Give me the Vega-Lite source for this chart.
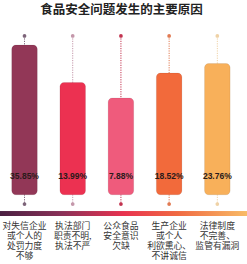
{
  "$schema": "https://vega.github.io/schema/vega-lite/v6.json",
  "width": 247,
  "height": 198,
  "padding": {"top": 3, "left": 0, "right": 0, "bottom": 0},
  "background": "white",
  "title": {"text": "食品安全问题发生的主要原因", "font": "Noto Sans CJK SC", "fontSize": 12.5, "fontWeight": "bold", "color": "#222222", "anchor": "middle", "offset": 4, "dx": -2},
  "config": {"view": {"stroke": null}},
  "data": {"values": [
    {"cause": "对失信企业\n或个人的\n处罚力度\n不够", "share": 0.3585},
    {"cause": "执法部门\n职责不明,\n执法不严", "share": 0.1399},
    {"cause": "公众食品\n安全意识\n欠缺", "share": 0.0788},
    {"cause": "生产企业\n或个人\n利欲熏心、\n不讲诚信", "share": 0.1852},
    {"cause": "法律制度\n不完善、\n监管有漏洞", "share": 0.2376}
  ]},
  "layer": [
    {
      "mark": {"type": "rect", "fill": {"gradient": "linear", "x1": 0, "x2": 1, "y1": 0, "y2": 0, "stops": [
        {"offset": 0, "color": "#4a2042"},
        {"offset": 0.25, "color": "#8a3158"},
        {"offset": 0.5, "color": "#e8324f"},
        {"offset": 0.72, "color": "#f06a42"},
        {"offset": 1, "color": "#f8bb66"}
      ]}},
      "encoding": {
        "y": {"datum": -0.1603, "type": "quantitative", "scale": {"type": "sqrt", "domain": [-0.193, 0.561], "zero": false, "nice": false}, "axis": null},
        "y2": {"datum": -0.1826}
      }
    },
    {
      "mark": {"type": "rule", "strokeDash": [1.2, 1.2], "strokeWidth": 1},
      "encoding": {
        "x": {"field": "cause", "type": "nominal", "sort": null, "scale": {"paddingInner": 0.47, "paddingOuter": 0.297, "align": 0.41}, "axis": {"title": null, "domain": false, "ticks": false, "labelAngle": 0, "labelPadding": 3, "labelFont": "Noto Sans CJK SC", "labelFontSize": 8.8, "labelLineHeight": 10.3, "labelColor": "#333333", "labelExpr": "split(datum.value, '\\n')", "labelOverlap": false, "labelLimit": 0}},
        "y": {"datum": 0.4265, "type": "quantitative"},
        "y2": {"datum": -0.1263},
        "color": {"field": "cause", "type": "nominal", "sort": null, "legend": null, "scale": {"range": ["#7d6479", "#c497aa", "#c2334f", "#e17a52", "#efd2a6"]}}
      }
    },
    {
      "mark": {"type": "circle", "size": 14, "opacity": 1},
      "encoding": {
        "x": {"field": "cause", "type": "nominal", "sort": null},
        "y": {"datum": 0.4265, "type": "quantitative"},
        "color": {"field": "cause", "type": "nominal", "sort": null, "legend": null, "scale": {"range": ["#7d6479", "#c497aa", "#c2334f", "#e17a52", "#efd2a6"]}}
      }
    },
    {
      "mark": {"type": "circle", "size": 14, "opacity": 1},
      "encoding": {
        "x": {"field": "cause", "type": "nominal", "sort": null},
        "y": {"datum": -0.1263, "type": "quantitative"},
        "color": {"field": "cause", "type": "nominal", "sort": null, "legend": null, "scale": {"range": ["#7d6479", "#c497aa", "#c2334f", "#e17a52", "#efd2a6"]}}
      }
    },
    {
      "mark": {"type": "bar", "cornerRadius": 4, "stroke": "#000000", "strokeOpacity": 0.08, "strokeWidth": 1},
      "encoding": {
        "x": {"field": "cause", "type": "nominal", "sort": null},
        "y": {"field": "share", "type": "quantitative"},
        "y2": {"datum": -0.09},
        "color": {"field": "cause", "type": "nominal", "sort": null, "legend": null, "scale": {"range": ["#923757", "#ec3151", "#ef5b7c", "#f26a3b", "#f8b05a"]}}
      }
    },
    {
      "mark": {"type": "text", "font": "Liberation Sans", "fontSize": 8.5, "fontWeight": "bold", "color": "#2a1a1a", "baseline": "middle"},
      "encoding": {
        "x": {"field": "cause", "type": "nominal", "sort": null},
        "y": {"datum": -0.0351, "type": "quantitative"},
        "text": {"field": "share", "type": "quantitative", "format": ".2%"}
      }
    }
  ],
  "resolve": {"scale": {"color": "independent"}}
}
